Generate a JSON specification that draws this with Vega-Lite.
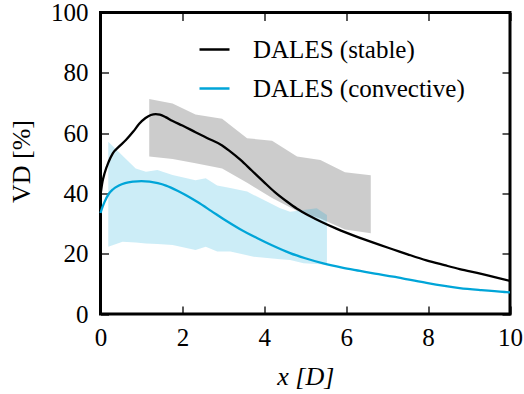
{
  "$schema": "https://vega.github.io/schema/vega-lite/v6.json",
  "autosize": "none",
  "width": 409.5,
  "height": 301.5,
  "padding": {"left": 100.5, "top": 12.5, "right": 14, "bottom": 80},
  "config": {
    "view": {"stroke": "black", "strokeWidth": 3},
    "axis": {
      "grid": false,
      "domain": false,
      "tickColor": "black",
      "tickWidth": 1.3,
      "tickSize": -8,
      "labelFont": "serif",
      "labelFontSize": 25,
      "labelColor": "black",
      "labelFlush": false,
      "labelOverlap": false,
      "titleFont": "serif",
      "titleFontSize": 26,
      "titleFontWeight": "normal",
      "titleColor": "black"
    },
    "legend": {
      "labelFont": "serif"
    }
  },
  "datasets": {
    "curves": [
      {"x": 0, "vd": 39.5, "series": "DALES (stable)"},
      {"x": 0.05, "vd": 44, "series": "DALES (stable)"},
      {"x": 0.1, "vd": 46.7, "series": "DALES (stable)"},
      {"x": 0.2, "vd": 50.5, "series": "DALES (stable)"},
      {"x": 0.3, "vd": 53.3, "series": "DALES (stable)"},
      {"x": 0.45, "vd": 55.5, "series": "DALES (stable)"},
      {"x": 0.62, "vd": 57.7, "series": "DALES (stable)"},
      {"x": 0.8, "vd": 60.5, "series": "DALES (stable)"},
      {"x": 0.94, "vd": 63.0, "series": "DALES (stable)"},
      {"x": 1.1, "vd": 65, "series": "DALES (stable)"},
      {"x": 1.23, "vd": 66, "series": "DALES (stable)"},
      {"x": 1.35, "vd": 66.3, "series": "DALES (stable)"},
      {"x": 1.45, "vd": 66.1, "series": "DALES (stable)"},
      {"x": 1.59, "vd": 65.3, "series": "DALES (stable)"},
      {"x": 1.75, "vd": 64.1, "series": "DALES (stable)"},
      {"x": 2.0, "vd": 62.5, "series": "DALES (stable)"},
      {"x": 2.32, "vd": 60.3, "series": "DALES (stable)"},
      {"x": 2.6, "vd": 58.4, "series": "DALES (stable)"},
      {"x": 2.97, "vd": 55.9, "series": "DALES (stable)"},
      {"x": 3.15, "vd": 54.1, "series": "DALES (stable)"},
      {"x": 3.42, "vd": 51.1, "series": "DALES (stable)"},
      {"x": 3.7, "vd": 47.5, "series": "DALES (stable)"},
      {"x": 3.98, "vd": 43.9, "series": "DALES (stable)"},
      {"x": 4.25, "vd": 40.5, "series": "DALES (stable)"},
      {"x": 4.55, "vd": 37.3, "series": "DALES (stable)"},
      {"x": 4.8, "vd": 34.9, "series": "DALES (stable)"},
      {"x": 5.11, "vd": 32.5, "series": "DALES (stable)"},
      {"x": 5.4, "vd": 30.5, "series": "DALES (stable)"},
      {"x": 5.76, "vd": 28.3, "series": "DALES (stable)"},
      {"x": 6.3, "vd": 25.4, "series": "DALES (stable)"},
      {"x": 6.82, "vd": 22.9, "series": "DALES (stable)"},
      {"x": 7.15, "vd": 21.4, "series": "DALES (stable)"},
      {"x": 7.5, "vd": 19.8, "series": "DALES (stable)"},
      {"x": 7.96, "vd": 17.8, "series": "DALES (stable)"},
      {"x": 8.4, "vd": 16.2, "series": "DALES (stable)"},
      {"x": 8.77, "vd": 14.9, "series": "DALES (stable)"},
      {"x": 9.3, "vd": 13.3, "series": "DALES (stable)"},
      {"x": 9.6, "vd": 12.3, "series": "DALES (stable)"},
      {"x": 10, "vd": 11, "series": "DALES (stable)"},
      {"x": 0, "vd": 33.5, "series": "DALES (convective)"},
      {"x": 0.05, "vd": 35.5, "series": "DALES (convective)"},
      {"x": 0.1, "vd": 37.2, "series": "DALES (convective)"},
      {"x": 0.2, "vd": 39.8, "series": "DALES (convective)"},
      {"x": 0.3, "vd": 41.3, "series": "DALES (convective)"},
      {"x": 0.45, "vd": 42.6, "series": "DALES (convective)"},
      {"x": 0.6, "vd": 43.4, "series": "DALES (convective)"},
      {"x": 0.8, "vd": 43.9, "series": "DALES (convective)"},
      {"x": 1.0, "vd": 44.1, "series": "DALES (convective)"},
      {"x": 1.2, "vd": 43.9, "series": "DALES (convective)"},
      {"x": 1.4, "vd": 43.4, "series": "DALES (convective)"},
      {"x": 1.6, "vd": 42.6, "series": "DALES (convective)"},
      {"x": 1.88, "vd": 40.9, "series": "DALES (convective)"},
      {"x": 2.1, "vd": 39.3, "series": "DALES (convective)"},
      {"x": 2.36, "vd": 37.2, "series": "DALES (convective)"},
      {"x": 2.7, "vd": 34.2, "series": "DALES (convective)"},
      {"x": 3.01, "vd": 31.4, "series": "DALES (convective)"},
      {"x": 3.4, "vd": 28.2, "series": "DALES (convective)"},
      {"x": 3.82, "vd": 25.2, "series": "DALES (convective)"},
      {"x": 4.2, "vd": 22.7, "series": "DALES (convective)"},
      {"x": 4.63, "vd": 20.2, "series": "DALES (convective)"},
      {"x": 5.0, "vd": 18.5, "series": "DALES (convective)"},
      {"x": 5.44, "vd": 16.8, "series": "DALES (convective)"},
      {"x": 5.9, "vd": 15.4, "series": "DALES (convective)"},
      {"x": 6.34, "vd": 14.3, "series": "DALES (convective)"},
      {"x": 6.7, "vd": 13.4, "series": "DALES (convective)"},
      {"x": 7.15, "vd": 12.4, "series": "DALES (convective)"},
      {"x": 7.5, "vd": 11.5, "series": "DALES (convective)"},
      {"x": 7.96, "vd": 10.3, "series": "DALES (convective)"},
      {"x": 8.4, "vd": 9.3, "series": "DALES (convective)"},
      {"x": 8.77, "vd": 8.6, "series": "DALES (convective)"},
      {"x": 9.3, "vd": 7.9, "series": "DALES (convective)"},
      {"x": 9.87, "vd": 7.3, "series": "DALES (convective)"},
      {"x": 10, "vd": 7.2, "series": "DALES (convective)"}
    ],
    "stable_band": [
      {"x": 1.19, "lo": 52.2, "hi": 71.3},
      {"x": 1.76, "lo": 51.4, "hi": 69.8},
      {"x": 2.32, "lo": 50.0, "hi": 66.2},
      {"x": 2.97, "lo": 48.3, "hi": 64.8},
      {"x": 3.58, "lo": 43.5, "hi": 58.3},
      {"x": 4.19, "lo": 38.5, "hi": 57.5},
      {"x": 4.8, "lo": 34.2, "hi": 52.2},
      {"x": 5.37, "lo": 31.7, "hi": 51.1},
      {"x": 5.97, "lo": 28.0, "hi": 47.0},
      {"x": 6.6, "lo": 26.8, "hi": 46.0}
    ],
    "convective_band": [
      {"x": 0.19, "lo": 22.3, "hi": 57.1},
      {"x": 0.54, "lo": 24.0, "hi": 52.5},
      {"x": 0.86, "lo": 23.7, "hi": 48.3},
      {"x": 1.11, "lo": 23.4, "hi": 47.2},
      {"x": 1.39, "lo": 23.2, "hi": 47.8},
      {"x": 1.76, "lo": 22.9, "hi": 46.1},
      {"x": 2.32, "lo": 21.2, "hi": 44.4},
      {"x": 2.57, "lo": 22.3, "hi": 45.0},
      {"x": 2.85, "lo": 20.7, "hi": 42.6},
      {"x": 3.17, "lo": 20.7, "hi": 41.8},
      {"x": 3.58, "lo": 19.5, "hi": 40.6},
      {"x": 3.74, "lo": 19.0, "hi": 39.5},
      {"x": 4.39, "lo": 18.2, "hi": 35.1},
      {"x": 4.63, "lo": 17.9, "hi": 33.9},
      {"x": 4.96, "lo": 16.8, "hi": 34.5},
      {"x": 5.28, "lo": 16.6, "hi": 35.1},
      {"x": 5.53, "lo": 16.3, "hi": 32.8}
    ]
  },
  "layer": [
    {
      "data": {"name": "stable_band"},
      "mark": {"type": "area", "color": "black", "opacity": 0.2},
      "encoding": {
        "x": {
          "field": "x", "type": "quantitative",
          "scale": {"domain": [0, 10], "nice": false},
          "axis": {
            "orient": "bottom",
            "values": [0, 2, 4, 6, 8, 10],
            "labelPadding": 19.25,
            "title": "x [D]",
            "titleFontStyle": "italic",
            "titleBaseline": "middle",
            "titleY": 62.5
          }
        },
        "y": {
          "field": "lo", "type": "quantitative",
          "scale": {"domain": [0, 100], "nice": false},
          "axis": {
            "orient": "left",
            "values": [0, 20, 40, 60, 80, 100],
            "labelPadding": 20.5,
            "title": "VD [%]",
            "titleBaseline": "middle",
            "titleX": -79,
            "titleY": 148.5
          }
        },
        "y2": {"field": "hi"}
      }
    },
    {
      "data": {"name": "convective_band"},
      "mark": {"type": "area", "color": "#00a5d8", "opacity": 0.2},
      "encoding": {
        "x": {
          "field": "x", "type": "quantitative",
          "axis": {"orient": "top", "values": [0, 2, 4, 6, 8, 10], "labels": false, "title": null}
        },
        "y": {
          "field": "lo", "type": "quantitative",
          "axis": {"orient": "right", "values": [0, 20, 40, 60, 80, 100], "labels": false, "title": null}
        },
        "y2": {"field": "hi"}
      }
    },
    {
      "data": {"name": "curves"},
      "mark": {"type": "line", "strokeWidth": 2.3, "interpolate": "monotone"},
      "encoding": {
        "x": {"field": "x", "type": "quantitative", "axis": null},
        "y": {"field": "vd", "type": "quantitative", "axis": null},
        "color": {
          "field": "series", "type": "nominal",
          "scale": {"domain": ["DALES (stable)", "DALES (convective)"], "range": ["black", "#00a5d8"]},
          "legend": {
            "orient": "none",
            "legendX": 97.5,
            "legendY": 20.5,
            "title": null,
            "symbolType": "stroke",
            "symbolSize": 900,
            "symbolStrokeWidth": 2.5,
            "labelFontSize": 25,
            "labelColor": "black",
            "labelOffset": 22,
            "rowPadding": 9,
            "labelLimit": 400
          }
        }
      }
    }
  ],
  "resolve": {"axis": {"x": "independent", "y": "independent"}}
}
